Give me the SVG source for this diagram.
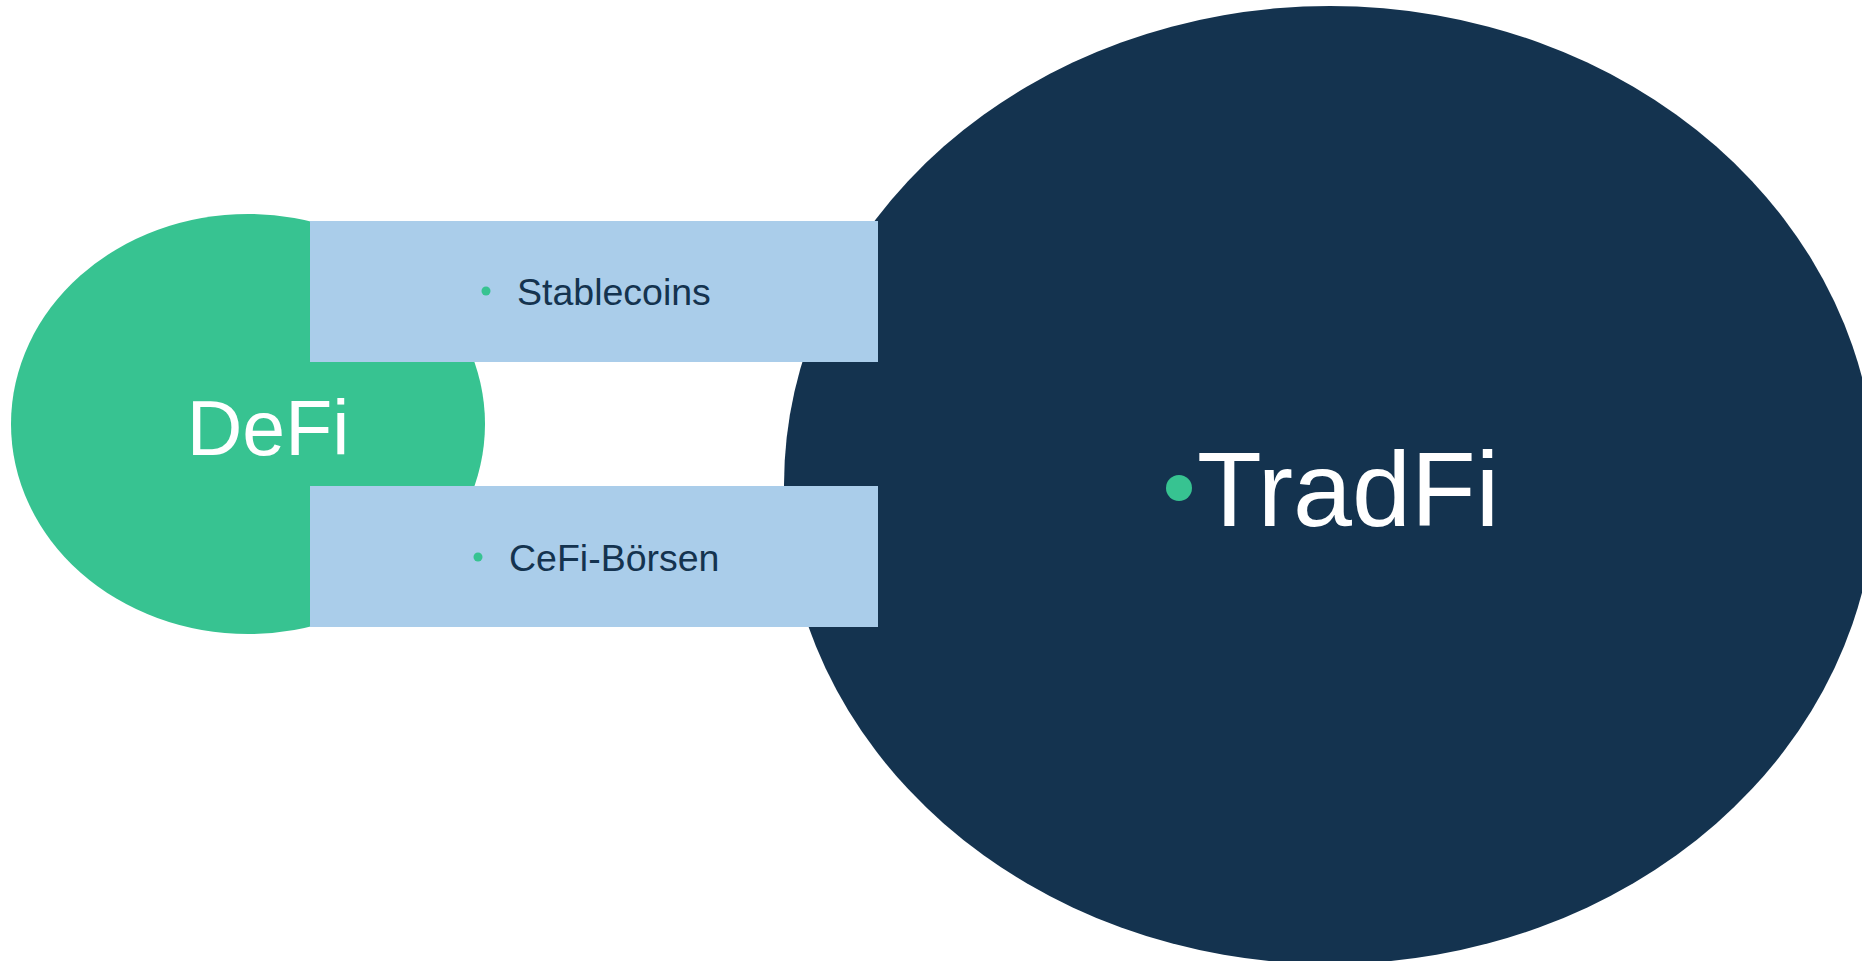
<svg xmlns="http://www.w3.org/2000/svg" width="1862" height="961" viewBox="0 0 1862 961">
<style>
.lbl{font-family:"Liberation Sans",Arial,sans-serif;}
.white{fill:#FFFFFF;}
.dark{fill:#14334F;}
.green{fill:#37C391;}
.box{fill:#AACDEA;}
</style>
<rect x="0" y="0" width="1862" height="961" fill="#FFFFFF"/>
<g id="node-defi">
<ellipse class="green" cx="248" cy="424" rx="237" ry="210"/>
<text class="lbl white" x="268" y="455" font-size="77" text-anchor="middle">DeFi</text>
</g>
<g id="node-tradfi">
<ellipse class="dark" cx="1330" cy="485" rx="546" ry="479"/>
<circle class="green" cx="1179" cy="488" r="13"/>
<text class="lbl white" x="1197" y="526" font-size="106">TradFi</text>
</g>
<g id="connectors"></g>
<g id="node-stablecoins">
<rect class="box" x="310" y="221" width="568" height="141"/>
<circle class="green" cx="486" cy="291" r="4.5"/>
<text class="lbl dark" x="517" y="305" font-size="37.5">Stablecoins</text>
</g>
<g id="node-cefi">
<rect class="box" x="310" y="486" width="568" height="141"/>
<circle class="green" cx="478" cy="557" r="4.5"/>
<text class="lbl dark" x="509" y="571" font-size="37.5">CeFi-Börsen</text>
</g>
</svg>
